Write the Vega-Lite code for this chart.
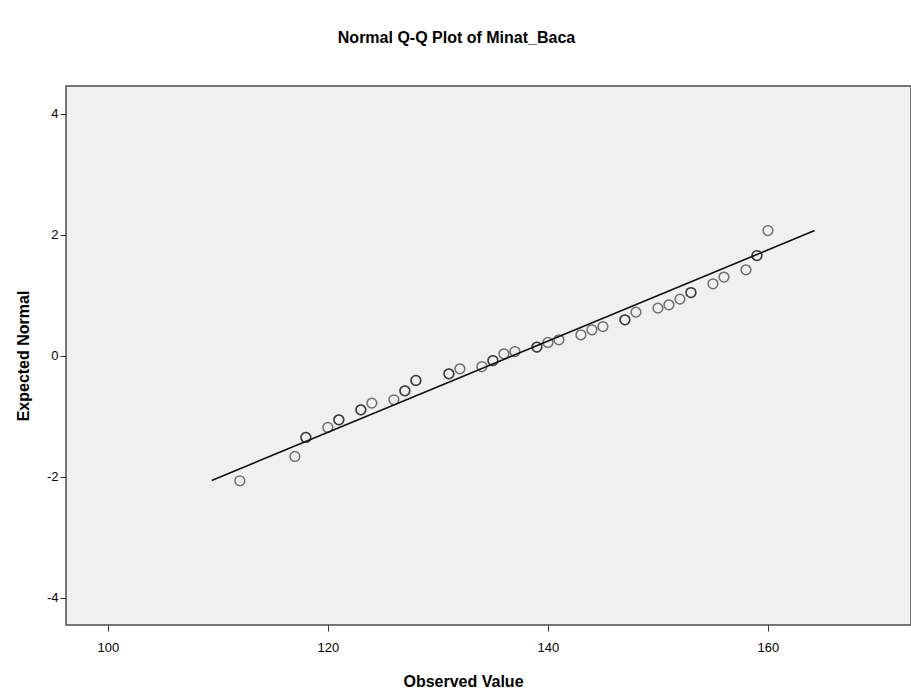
{
  "$schema": "https://vega.github.io/schema/vega-lite/v6.json",
  "width": 845,
  "height": 539,
  "autosize": "none",
  "padding": {"left": 66, "top": 86, "right": 0, "bottom": 74},
  "background": "white",
  "title": {
    "text": "Normal Q-Q Plot of Minat_Baca",
    "font": "Liberation Sans",
    "fontSize": 16,
    "fontWeight": "bold",
    "color": "#000000",
    "anchor": "middle",
    "dx": -32,
    "offset": 40
  },
  "config": {
    "view": {"fill": "#f0f0f0", "stroke": "#4d4d4d", "strokeWidth": 1.5},
    "axis": {
      "labelFont": "Liberation Sans",
      "labelFontSize": 13,
      "labelColor": "#000000",
      "titleFont": "Liberation Sans",
      "titleFontSize": 16,
      "titleFontWeight": "bold",
      "titleColor": "#000000",
      "domain": false,
      "grid": false,
      "tickColor": "#333333",
      "tickSize": 6,
      "tickWidth": 1
    }
  },
  "datasets": {
    "points": [
      {"observed": 112, "expected": -2.066},
      {"observed": 117, "expected": -1.664},
      {"observed": 118, "expected": -1.350},
      {"observed": 118, "expected": -1.350},
      {"observed": 120, "expected": -1.185},
      {"observed": 121, "expected": -1.058},
      {"observed": 121, "expected": -1.058},
      {"observed": 123, "expected": -0.893},
      {"observed": 123, "expected": -0.893},
      {"observed": 124, "expected": -0.782},
      {"observed": 126, "expected": -0.727},
      {"observed": 127, "expected": -0.579},
      {"observed": 127, "expected": -0.579},
      {"observed": 128, "expected": -0.408},
      {"observed": 128, "expected": -0.408},
      {"observed": 131, "expected": -0.298},
      {"observed": 131, "expected": -0.298},
      {"observed": 132, "expected": -0.215},
      {"observed": 134, "expected": -0.177},
      {"observed": 135, "expected": -0.078},
      {"observed": 135, "expected": -0.078},
      {"observed": 136, "expected": 0.033},
      {"observed": 137, "expected": 0.071},
      {"observed": 139, "expected": 0.144},
      {"observed": 139, "expected": 0.144},
      {"observed": 140, "expected": 0.220},
      {"observed": 141, "expected": 0.264},
      {"observed": 143, "expected": 0.347},
      {"observed": 144, "expected": 0.430},
      {"observed": 145, "expected": 0.484},
      {"observed": 147, "expected": 0.595},
      {"observed": 147, "expected": 0.595},
      {"observed": 148, "expected": 0.722},
      {"observed": 150, "expected": 0.788},
      {"observed": 151, "expected": 0.843},
      {"observed": 152, "expected": 0.937},
      {"observed": 153, "expected": 1.046},
      {"observed": 153, "expected": 1.046},
      {"observed": 155, "expected": 1.190},
      {"observed": 156, "expected": 1.301},
      {"observed": 158, "expected": 1.421},
      {"observed": 159, "expected": 1.658},
      {"observed": 159, "expected": 1.658},
      {"observed": 160, "expected": 2.071}
    ],
    "refline": [
      {"observed": 109.44, "expected": -2.06},
      {"observed": 164.24, "expected": 2.07}
    ]
  },
  "layer": [
    {
      "data": {"name": "refline"},
      "mark": {"type": "line", "color": "#111111", "strokeWidth": 1.6, "clip": true},
      "encoding": {
        "x": {"field": "observed", "type": "quantitative"},
        "y": {"field": "expected", "type": "quantitative"}
      }
    },
    {
      "data": {"name": "points"},
      "mark": {"type": "point", "shape": "circle", "filled": false, "size": 95, "stroke": "#1a1a1a", "strokeWidth": 1.5, "strokeOpacity": 0.85, "clip": true},
      "encoding": {
        "x": {
          "field": "observed",
          "type": "quantitative",
          "scale": {"domain": [96.2, 173.0], "nice": false, "zero": false},
          "axis": {
            "title": "Observed Value",
            "values": [100, 120, 140, 160],
            "labelPadding": 10,
            "titlePadding": 19,
            "titleX": 397
          }
        },
        "y": {
          "field": "expected",
          "type": "quantitative",
          "scale": {"domain": [-4.45, 4.46], "nice": false, "zero": false},
          "axis": {
            "title": "Expected Normal",
            "values": [-4, -2, 0, 2, 4],
            "labelExpr": "datum.value < 0 ? '-' + abs(datum.value) : '' + datum.value",
            "labelPadding": 2,
            "titlePadding": 15
          }
        }
      }
    }
  ]
}
